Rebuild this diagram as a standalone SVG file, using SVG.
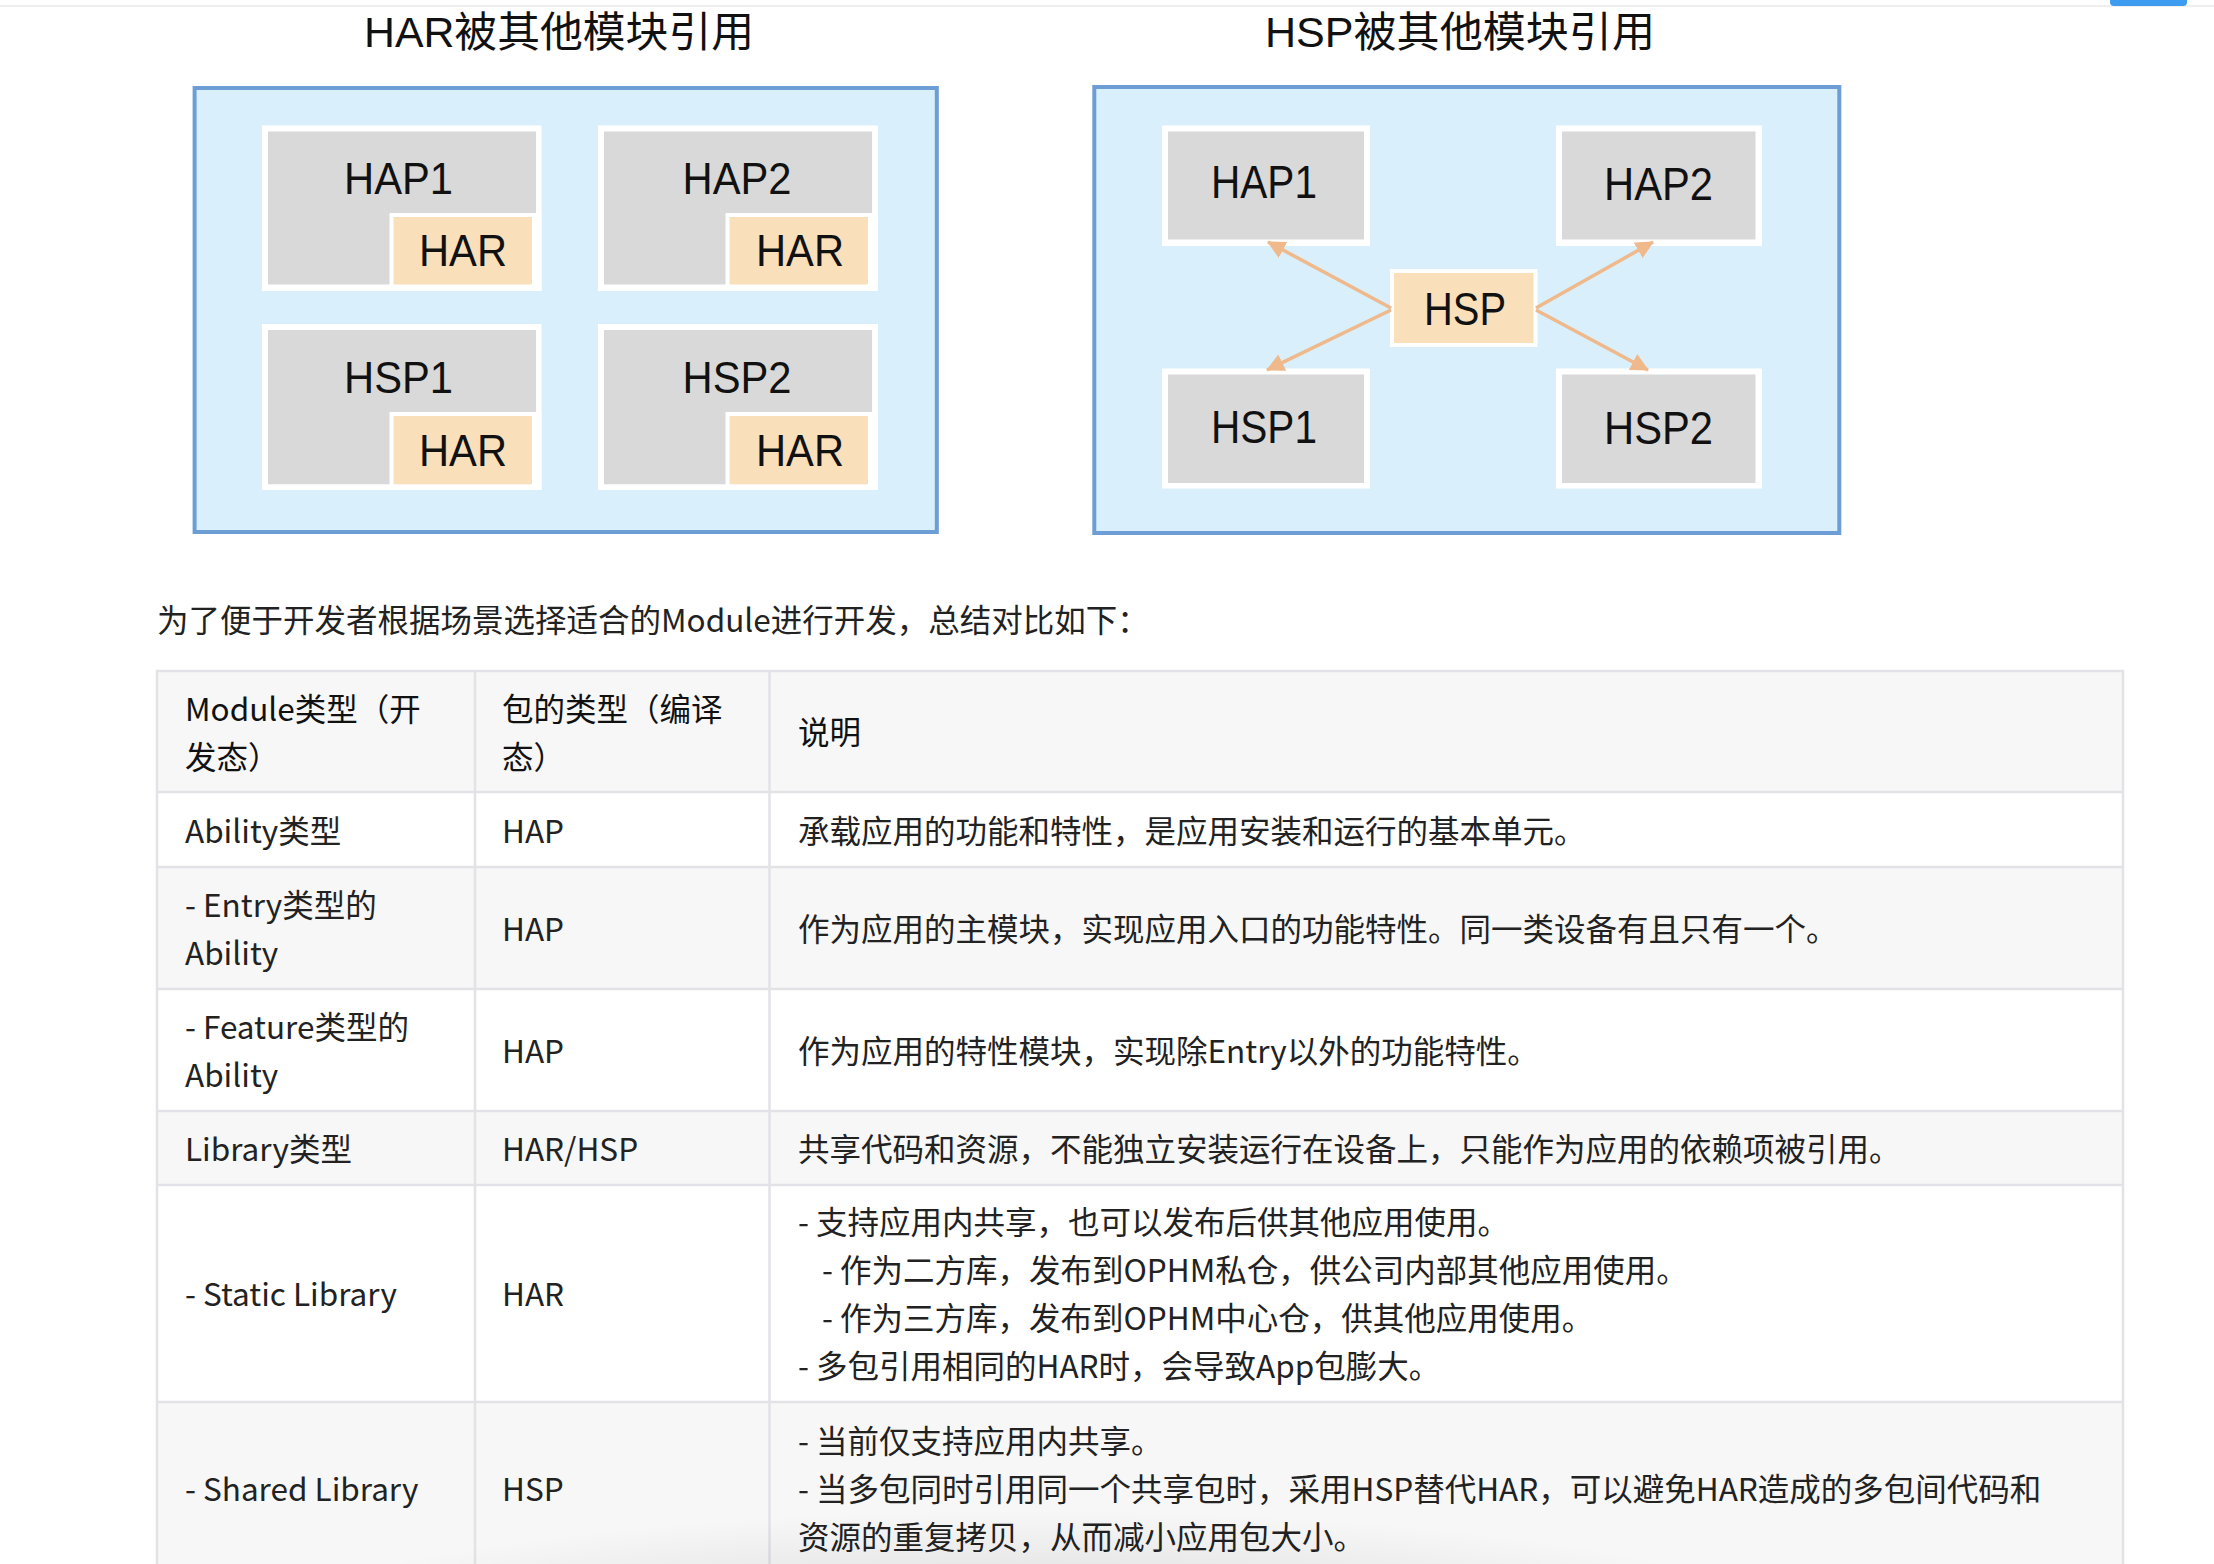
<svg xmlns="http://www.w3.org/2000/svg" width="2214" height="1564" viewBox="0 0 2214 1564">
<style>
.bg{fill:#ffffff}
.panel{fill:#d9effc;stroke:#6c9dd4;stroke-width:4}
.frame{fill:#ffffff}
.gray{fill:#d9d9d9}
.orange{fill:#f9e0bb}
.lbl{font-family:"Liberation Sans","Noto Sans CJK SC",sans-serif;fill:#111;text-anchor:middle}
.title{font-family:"Liberation Sans","Noto Sans CJK SC",sans-serif;fill:#111;font-size:42px;text-anchor:middle}
.conn{stroke:#efb98b;stroke-width:3.5;fill:none}
.t{font-family:"Noto Sans CJK SC",sans-serif;font-size:31.5px;fill:#222}
.th{font-family:"Noto Sans CJK SC",sans-serif;font-size:31.5px;fill:#111}
.rowg{fill:#f7f7f7}
.roww{fill:#ffffff}
.grid{stroke:#e2e2e7;stroke-width:2.5;fill:none}
</style>
<defs>
<marker id="ah" markerWidth="20" markerHeight="18" refX="17" refY="9" orient="auto" markerUnits="userSpaceOnUse">
<path d="M0,0 L18,9 L0,18 Z" fill="#efb98b"/>
</marker>
<radialGradient id="shadow" cx="0.5" cy="0.5" r="0.5">
<stop offset="0" stop-color="#000" stop-opacity="0.16"/>
<stop offset="0.6" stop-color="#000" stop-opacity="0.06"/>
<stop offset="1" stop-color="#000" stop-opacity="0"/>
</radialGradient>
</defs>
<rect class="bg" x="0" y="0" width="2214" height="1564"/>
<rect x="0" y="5" width="2214" height="2" fill="#efefef"/>
<rect x="2110" y="-4" width="77" height="10" rx="4" fill="#3d9bf0"/>

<g id="titles">
<text class="title" x="559" y="47" textLength="390" lengthAdjust="spacingAndGlyphs">HAR被其他模块引用</text>
<text class="title" x="1460" y="47" textLength="390" lengthAdjust="spacingAndGlyphs">HSP被其他模块引用</text>
</g>

<g id="har-panel">
<rect class="panel" x="194.6" y="88" width="742.2" height="444"/>
</g>
<g id="har-hap1">
<rect class="frame" x="262" y="125.5" width="279.5" height="165.5"/>
<rect class="gray" x="268" y="131.5" width="268" height="153"/>
<rect class="frame" x="389.5" y="213" width="152" height="78"/>
<rect class="orange" x="393.5" y="217" width="138.5" height="67.5"/>
<text class="lbl" x="398.5" y="193.5" font-size="44" textLength="109" lengthAdjust="spacingAndGlyphs">HAP1</text>
<text class="lbl" x="463" y="266" font-size="44" textLength="88" lengthAdjust="spacingAndGlyphs">HAR</text>
</g>
<g id="har-hap2">
<rect class="frame" x="598" y="125.5" width="280" height="165.5"/>
<rect class="gray" x="604" y="131.5" width="268" height="153"/>
<rect class="frame" x="725.5" y="213" width="152.5" height="78"/>
<rect class="orange" x="729.5" y="217" width="138.5" height="67.5"/>
<text class="lbl" x="737" y="193.5" font-size="44" textLength="109" lengthAdjust="spacingAndGlyphs">HAP2</text>
<text class="lbl" x="800" y="266" font-size="44" textLength="88" lengthAdjust="spacingAndGlyphs">HAR</text>
</g>
<g id="har-hsp1">
<rect class="frame" x="262" y="324" width="279.5" height="166"/>
<rect class="gray" x="268" y="330" width="268" height="154.3"/>
<rect class="frame" x="389.5" y="412" width="152" height="78"/>
<rect class="orange" x="393.5" y="416" width="138.5" height="68.3"/>
<text class="lbl" x="398.5" y="392.5" font-size="44" textLength="109" lengthAdjust="spacingAndGlyphs">HSP1</text>
<text class="lbl" x="463" y="466" font-size="44" textLength="88" lengthAdjust="spacingAndGlyphs">HAR</text>
</g>
<g id="har-hsp2">
<rect class="frame" x="598" y="324" width="280" height="166"/>
<rect class="gray" x="604" y="330" width="268" height="154.3"/>
<rect class="frame" x="725.5" y="412" width="152.5" height="78"/>
<rect class="orange" x="729.5" y="416" width="138.5" height="68.3"/>
<text class="lbl" x="737" y="392.5" font-size="44" textLength="109" lengthAdjust="spacingAndGlyphs">HSP2</text>
<text class="lbl" x="800" y="466" font-size="44" textLength="88" lengthAdjust="spacingAndGlyphs">HAR</text>
</g>

<g id="hsp-panel">
<rect class="panel" x="1094.3" y="87" width="745" height="446"/>
</g>
<g id="hsp-hap1">
<rect class="frame" x="1162" y="125.5" width="208" height="120.5"/>
<rect class="gray" x="1168" y="131.5" width="196" height="108"/>
<text class="lbl" x="1264" y="198" font-size="46" textLength="106" lengthAdjust="spacingAndGlyphs">HAP1</text>
</g>
<g id="hsp-hap2">
<rect class="frame" x="1556" y="125.5" width="206" height="120.5"/>
<rect class="gray" x="1562" y="131.5" width="193.5" height="108"/>
<text class="lbl" x="1658.5" y="200" font-size="46" textLength="109" lengthAdjust="spacingAndGlyphs">HAP2</text>
</g>
<g id="hsp-hsp1">
<rect class="frame" x="1162" y="368.5" width="208" height="120"/>
<rect class="gray" x="1168" y="374.5" width="196" height="108.5"/>
<text class="lbl" x="1264" y="442.5" font-size="46" textLength="106" lengthAdjust="spacingAndGlyphs">HSP1</text>
</g>
<g id="hsp-hsp2">
<rect class="frame" x="1556" y="368.5" width="206" height="120"/>
<rect class="gray" x="1562" y="374.5" width="193.5" height="108.5"/>
<text class="lbl" x="1658.5" y="443.5" font-size="46" textLength="109" lengthAdjust="spacingAndGlyphs">HSP2</text>
</g>
<g id="hsp-hsp">
<rect class="frame" x="1390" y="269" width="147.5" height="78"/>
<rect class="orange" x="1394" y="273" width="139.5" height="70"/>
<text class="lbl" x="1465" y="325" font-size="47" textLength="82" lengthAdjust="spacingAndGlyphs">HSP</text>
</g>

<g id="connectors">
<line class="conn" x1="1391" y1="308" x2="1268" y2="242" marker-end="url(#ah)"/>
<line class="conn" x1="1391" y1="310" x2="1267" y2="370" marker-end="url(#ah)"/>
<line class="conn" x1="1536" y1="308" x2="1653" y2="242" marker-end="url(#ah)"/>
<line class="conn" x1="1536" y1="310" x2="1648" y2="370" marker-end="url(#ah)"/>
</g>

<g id="intro">
<text class="t" x="157" y="632">为了便于开发者根据场景选择适合的Module进行开发，总结对比如下：</text>
</g>

<g id="table">
<rect class="rowg" x="157" y="671" width="1966" height="121"/>
<rect class="roww" x="157" y="792" width="1966" height="75"/>
<rect class="rowg" x="157" y="867" width="1966" height="122"/>
<rect class="roww" x="157" y="989" width="1966" height="122"/>
<rect class="rowg" x="157" y="1111" width="1966" height="74"/>
<rect class="roww" x="157" y="1185" width="1966" height="217"/>
<rect class="rowg" x="157" y="1402" width="1966" height="180"/>
<path class="grid" d="M157,1580 V671 H2123 V1580 M475,671 V1580 M769.5,671 V1580 M157,792 H2123 M157,867 H2123 M157,989 H2123 M157,1111 H2123 M157,1185 H2123 M157,1402 H2123"/>

<g id="row-header">
<text class="th" x="185" y="720.5">Module类型（开</text>
<text class="th" x="185" y="768.5">发态）</text>
<text class="th" x="502" y="720.5">包的类型（编译</text>
<text class="th" x="502" y="768.5">态）</text>
<text class="th" x="798" y="744">说明</text>
</g>
<g id="row-ability">
<text class="t" x="185" y="842.5">Ability类型</text>
<text class="t" x="502" y="842.5">HAP</text>
<text class="t" x="798" y="842.5">承载应用的功能和特性，是应用安装和运行的基本单元。</text>
</g>
<g id="row-entry">
<text class="t" x="185" y="916.5">- Entry类型的</text>
<text class="t" x="185" y="964.5">Ability</text>
<text class="t" x="502" y="940.5">HAP</text>
<text class="t" x="798" y="940.5">作为应用的主模块，实现应用入口的功能特性。同一类设备有且只有一个。</text>
</g>
<g id="row-feature">
<text class="t" x="185" y="1038.5">- Feature类型的</text>
<text class="t" x="185" y="1086.5">Ability</text>
<text class="t" x="502" y="1062.5">HAP</text>
<text class="t" x="798" y="1062.5">作为应用的特性模块，实现除Entry以外的功能特性。</text>
</g>
<g id="row-library">
<text class="t" x="185" y="1160.5">Library类型</text>
<text class="t" x="502" y="1160.5">HAR/HSP</text>
<text class="t" x="798" y="1160.5">共享代码和资源，不能独立安装运行在设备上，只能作为应用的依赖项被引用。</text>
</g>
<g id="row-static">
<text class="t" x="185" y="1306">- Static Library</text>
<text class="t" x="502" y="1306">HAR</text>
<text class="t" x="798" y="1234">- 支持应用内共享，也可以发布后供其他应用使用。</text>
<text class="t" x="822" y="1282">- 作为二方库，发布到OPHM私仓，供公司内部其他应用使用。</text>
<text class="t" x="822" y="1330">- 作为三方库，发布到OPHM中心仓，供其他应用使用。</text>
<text class="t" x="798" y="1378">- 多包引用相同的HAR时，会导致App包膨大。</text>
</g>
<g id="row-shared">
<text class="t" x="185" y="1501">- Shared Library</text>
<text class="t" x="502" y="1501">HSP</text>
<text class="t" x="798" y="1453">- 当前仅支持应用内共享。</text>
<text class="t" x="798" y="1501">- 当多包同时引用同一个共享包时，采用HSP替代HAR，可以避免HAR造成的多包间代码和</text>
<text class="t" x="798" y="1549">资源的重复拷贝，从而减小应用包大小。</text>
</g>
</g>
<ellipse cx="1030" cy="1650" rx="820" ry="140" fill="url(#shadow)"/>
</svg>
